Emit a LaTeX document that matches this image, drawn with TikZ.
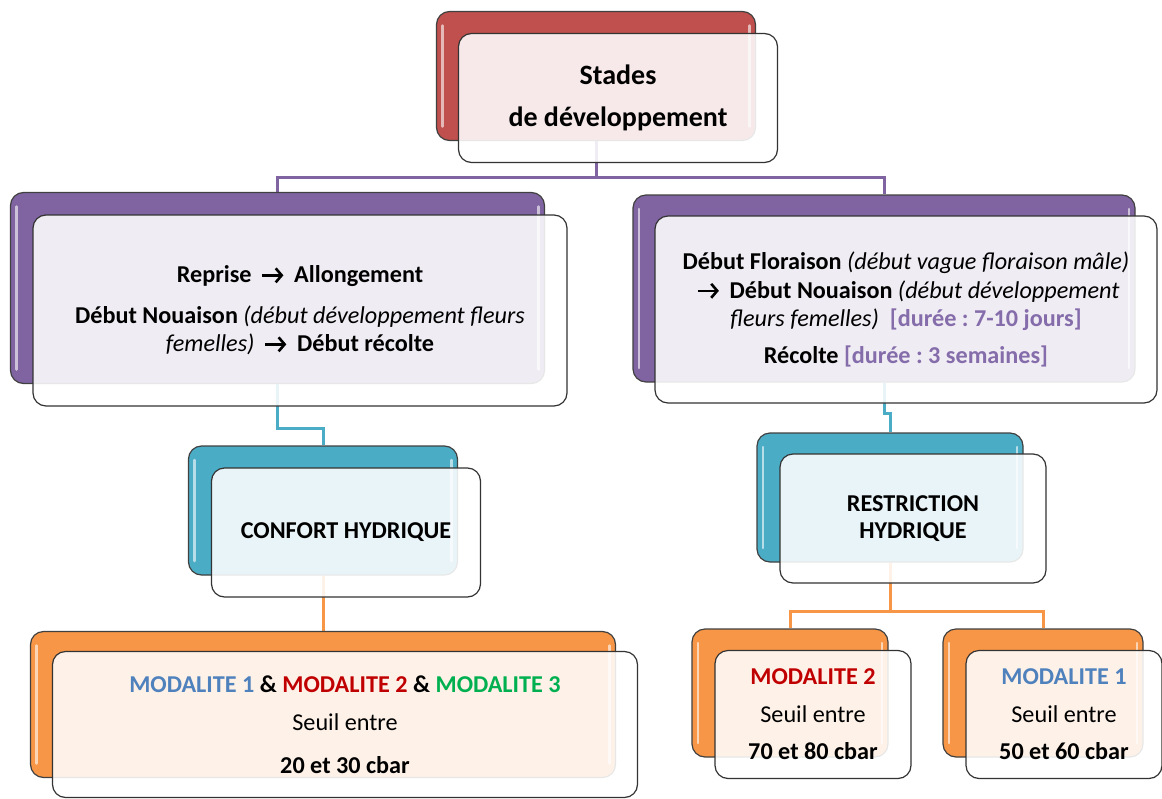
\documentclass[tikz,border=0pt]{standalone}
\usepackage{fontspec}
\setmainfont{Carlito}
\usepackage{xcolor}
\usepackage{tikz}
\usetikzlibrary{positioning, calc, backgrounds, arrows.meta}

\definecolor{crouge}{RGB}{192,80,77}
\definecolor{cviolet}{RGB}{128,100,162}
\definecolor{cbleu}{RGB}{75,172,198}
\definecolor{corange}{RGB}{247,150,70}
\definecolor{cduree}{RGB}{133,108,170}
\definecolor{cmodun}{RGB}{79,129,189}
\definecolor{cmoddeux}{RGB}{192,0,0}
\definecolor{cmodtrois}{RGB}{0,176,80}

\newcommand{\fleche}{\,\tikz[baseline={(0pt,-7.5pt)}]\draw[line width=2.6pt, -{Straight Barb[length=6pt, width=14pt]}] (0pt,0pt) -- (21pt,0pt);\,}

\tikzset{
    fond/.style={draw=black!75, line width=1.2pt, rounded corners=13pt, fill=#1, inner sep=0pt,
        path picture={
            \draw[white, opacity=0.6, line width=2.5pt, line cap=round]
                ([shift={(6pt,-14pt)}]path picture bounding box.north west)
                -- ([shift={(6pt,14pt)}]path picture bounding box.south west);
            \draw[white, opacity=0.6, line width=2.5pt, line cap=round]
                ([shift={(-6pt,-14pt)}]path picture bounding box.north east)
                -- ([shift={(-6pt,14pt)}]path picture bounding box.south east);
        }},
    boite/.style={draw=black!80, line width=1.2pt, rounded corners=13pt, fill=white,
        fill opacity=0.88, text opacity=1, inner sep=0pt, align=center},
    lien/.style={draw=#1, line width=3pt},
}

\begin{document}
\frenchspacing
\begin{tikzpicture}[x=1pt, y=-1pt, every node/.style={font=\fontsize{24.2}{28.5}\selectfont}]
    \useasboundingbox (0,0) rectangle (1162,798);

    % stades
    \node[fond=crouge, minimum width=319, minimum height=129] (stadesB) at (596,76) {};
    \node[boite, minimum width=319, minimum height=129, font=\fontsize{28}{28.5}\selectfont\bfseries] (stades) at (618,98)
        {Stades\\[14pt]de développement};

    % periodes
    \node[fond=cviolet, minimum width=534, minimum height=191] (repriseB) at (277.5,288) {};
    \node[boite, minimum width=534, minimum height=191] (reprise) at (300,310.5)
        {\textbf{Reprise \fleche{} Allongement}\\[12pt]
        \textbf{Début Nouaison} \textit{(début développement fleurs}\\
        \textit{femelles)} \fleche{} \textbf{Début récolte}};

    \node[fond=cviolet, minimum width=502, minimum height=187] (floraisonB) at (884,288.5) {};
    \node[boite, minimum width=502, minimum height=187] (floraison) at (906,309.5)
        {\textbf{Début Floraison} \textit{(début vague floraison mâle)}\\
        \fleche{} \textbf{Début Nouaison} \textit{(début développement}\\
        \textit{fleurs femelles)}~ \textbf{\color{cduree}[durée : 7-10 jours]}\\[8pt]
        \textbf{Récolte} \textbf{\color{cduree}[durée : 3 semaines]}};

    % regimes
    \node[fond=cbleu, minimum width=269, minimum height=129] (confortB) at (323,510.5) {};
    \node[boite, minimum width=269, minimum height=129] (confort) at (346,532.5)
        {\textbf{CONFORT HYDRIQUE}};

    \node[fond=cbleu, minimum width=266, minimum height=129] (restrictionB) at (890,497.5) {};
    \node[boite, minimum width=266, minimum height=129] (restriction) at (913,518.5)
        {\textbf{RESTRICTION}\\[-1.5pt]\textbf{HYDRIQUE}};

    % modalites
    \node[fond=corange, minimum width=585, minimum height=146] (modallB) at (323,704.5) {};
    \node[boite, minimum width=585, minimum height=146] (modall) at (345,724.5)
        {\textbf{\color{cmodun}MODALITE 1} \textbf{\&} \textbf{\color{cmoddeux}MODALITE 2} \textbf{\&} \textbf{\color{cmodtrois}MODALITE 3}\\[9.5pt]
        Seuil entre\\[14.5pt]
        \textbf{20 et 30 cbar}};

    \node[fond=corange, minimum width=196, minimum height=128] (modaldeuxB) at (790,693) {};
    \node[boite, minimum width=196, minimum height=128] (modaldeux) at (813,714.5)
        {\textbf{\color{cmoddeux}MODALITE 2}\\[9pt]
        Seuil entre\\[9pt]
        \textbf{70 et 80 cbar}};

    \node[fond=corange, minimum width=200, minimum height=128] (modalunB) at (1043,693) {};
    \node[boite, minimum width=196, minimum height=128] (modalun) at (1064,714.5)
        {\textbf{\color{cmodun}MODALITE 1}\\[9pt]
        Seuil entre\\[9pt]
        \textbf{50 et 60 cbar}};

    % liens
    \begin{scope}[on background layer]
        \draw[lien=cviolet] (stadesB.south) -- ++(0,36) -| (repriseB.north);
        \draw[lien=cviolet] (stadesB.south) -- ++(0,36) -| (floraisonB.north);
        \draw[lien=cbleu] (repriseB.south) -- ++(0,44) -| (confortB.north);
        \draw[lien=cbleu] (floraisonB.south) -- ++(0,31) -| (restrictionB.north);
        \draw[lien=corange] (confortB.south) -- (modallB.north);
        \draw[lien=corange] (restrictionB.south) -- ++(0,49) -| (modaldeuxB.north);
        \draw[lien=corange] (restrictionB.south) -- ++(0,49) -| (modalunB.north);
    \end{scope}
\end{tikzpicture}
\end{document}
